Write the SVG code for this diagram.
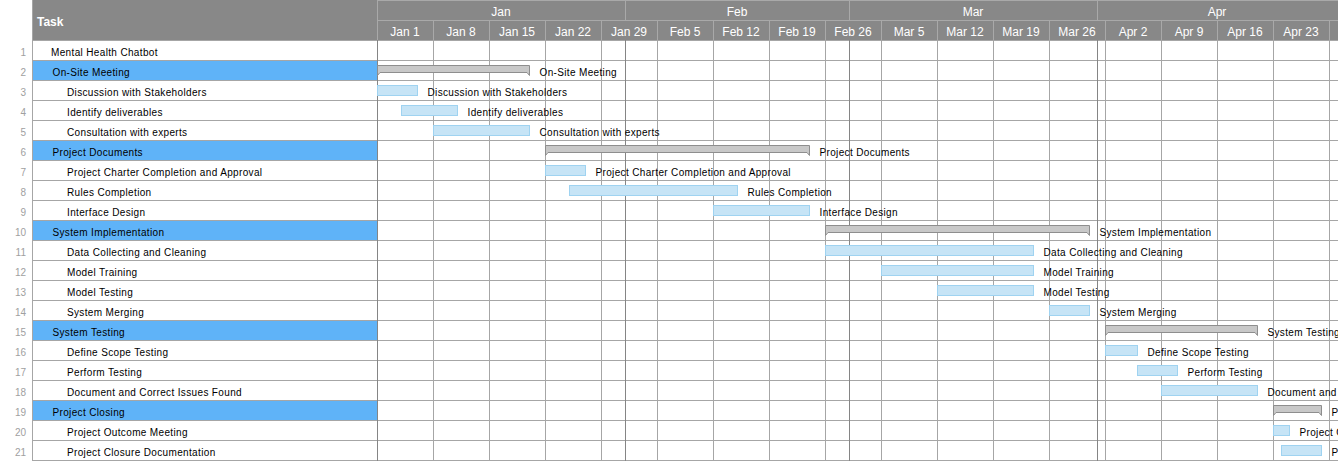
<svg xmlns="http://www.w3.org/2000/svg" width="1338" height="461" viewBox="0 0 1338 461">
<style>
text{font-family:"Liberation Sans",Arial,sans-serif}
.hd{fill:#888888}
.hl{stroke:#a9a9a9;stroke-width:1;fill:none}
.gl{stroke:#a6a6a6;stroke-width:1;fill:none}
.ml{stroke:#858585;stroke-width:1;fill:none}
.mon{font-size:12px;fill:#ffffff;text-anchor:middle}
.wk{font-size:12px;fill:#ffffff;text-anchor:middle}
.ttl{font-size:12px;font-weight:bold;fill:#ffffff}
.num{font-size:10px;fill:#a0a0a0;text-anchor:end}
.nm{font-size:10px;fill:#000000;letter-spacing:0.35px}
.lbl{font-size:10px;fill:#000000;letter-spacing:0.35px}
.sumrow{fill:#5fb3f8}
.bar{fill:#c6e4f6;stroke:#9fd3f1;stroke-width:1}
.sbar{fill:#c8c8c8;stroke:#8e8e8e;stroke-width:1}
</style>
<rect x="0" y="0" width="1338" height="461" fill="#ffffff"/>
<g id="header">
<rect class="hd" x="32" y="0" width="1306" height="40"/>
<text class="ttl" x="37" y="26">Task</text>
<path class="hl" d="M377.5 0V40M377 0.5H1338M377 20.5H1338M625.5 0V20M849.5 0V20M1097.5 0V20M433.5 20V40M489.5 20V40M545.5 20V40M601.5 20V40M657.5 20V40M713.5 20V40M769.5 20V40M825.5 20V40M881.5 20V40M937.5 20V40M993.5 20V40M1049.5 20V40M1105.5 20V40M1161.5 20V40M1217.5 20V40M1273.5 20V40M1329.5 20V40"/>
<text class="mon" x="501" y="16">Jan</text>
<text class="mon" x="737" y="16">Feb</text>
<text class="mon" x="973" y="16">Mar</text>
<text class="mon" x="1217" y="16">Apr</text>
<text class="wk" x="405" y="36">Jan 1</text>
<text class="wk" x="461" y="36">Jan 8</text>
<text class="wk" x="517" y="36">Jan 15</text>
<text class="wk" x="573" y="36">Jan 22</text>
<text class="wk" x="629" y="36">Jan 29</text>
<text class="wk" x="685" y="36">Feb 5</text>
<text class="wk" x="741" y="36">Feb 12</text>
<text class="wk" x="797" y="36">Feb 19</text>
<text class="wk" x="853" y="36">Feb 26</text>
<text class="wk" x="909" y="36">Mar 5</text>
<text class="wk" x="965" y="36">Mar 12</text>
<text class="wk" x="1021" y="36">Mar 19</text>
<text class="wk" x="1077" y="36">Mar 26</text>
<text class="wk" x="1133" y="36">Apr 2</text>
<text class="wk" x="1189" y="36">Apr 9</text>
<text class="wk" x="1245" y="36">Apr 16</text>
<text class="wk" x="1301" y="36">Apr 23</text>
</g>
<g id="summary-fills">
<rect class="sumrow" x="33" y="61" width="344" height="19"/>
<rect class="sumrow" x="33" y="141" width="344" height="19"/>
<rect class="sumrow" x="33" y="221" width="344" height="19"/>
<rect class="sumrow" x="33" y="321" width="344" height="19"/>
<rect class="sumrow" x="33" y="401" width="344" height="19"/>
</g>
<g id="grid">
<path class="gl" d="M32 40.5H1338M32 60.5H1338M32 80.5H1338M32 100.5H1338M32 120.5H1338M32 140.5H1338M32 160.5H1338M32 180.5H1338M32 200.5H1338M32 220.5H1338M32 240.5H1338M32 260.5H1338M32 280.5H1338M32 300.5H1338M32 320.5H1338M32 340.5H1338M32 360.5H1338M32 380.5H1338M32 400.5H1338M32 420.5H1338M32 440.5H1338M32 460.5H1338"/>
<path class="gl" d="M32.5 0V461M433.5 40V461M489.5 40V461M545.5 40V461M601.5 40V461M657.5 40V461M713.5 40V461M769.5 40V461M825.5 40V461M881.5 40V461M937.5 40V461M993.5 40V461M1049.5 40V461M1105.5 40V461M1161.5 40V461M1217.5 40V461M1273.5 40V461M1329.5 40V461"/>
<path class="ml" d="M377.5 40V461M625.5 40V461M849.5 40V461M1097.5 40V461"/>
</g>
<g id="row1"><text class="num" x="26" y="56">1</text><text class="nm" x="51" y="56">Mental Health Chatbot</text></g>
<g id="row2"><text class="num" x="26" y="76">2</text><text class="nm" x="52.5" y="76">On-Site Meeting</text>
<path class="sbar" d="M377.5 65.5H529.5V75.5L527 72.5H380L377.5 75.5Z"/><text class="lbl" x="539.5" y="76">On-Site Meeting</text></g>
<g id="row3"><text class="num" x="26" y="96">3</text><text class="nm" x="67" y="96">Discussion with Stakeholders</text>
<rect class="bar" x="377.5" y="85.5" width="40" height="10"/><text class="lbl" x="427.5" y="96">Discussion with Stakeholders</text></g>
<g id="row4"><text class="num" x="26" y="116">4</text><text class="nm" x="67" y="116">Identify deliverables</text>
<rect class="bar" x="401.5" y="105.5" width="56" height="10"/><text class="lbl" x="467.5" y="116">Identify deliverables</text></g>
<g id="row5"><text class="num" x="26" y="136">5</text><text class="nm" x="67" y="136">Consultation with experts</text>
<rect class="bar" x="433.5" y="125.5" width="96" height="10"/><text class="lbl" x="539.5" y="136">Consultation with experts</text></g>
<g id="row6"><text class="num" x="26" y="156">6</text><text class="nm" x="52.5" y="156">Project Documents</text>
<path class="sbar" d="M545.5 145.5H809.5V155.5L807 152.5H548L545.5 155.5Z"/><text class="lbl" x="819.5" y="156">Project Documents</text></g>
<g id="row7"><text class="num" x="26" y="176">7</text><text class="nm" x="67" y="176">Project Charter Completion and Approval</text>
<rect class="bar" x="545.5" y="165.5" width="40" height="10"/><text class="lbl" x="595.5" y="176">Project Charter Completion and Approval</text></g>
<g id="row8"><text class="num" x="26" y="196">8</text><text class="nm" x="67" y="196">Rules Completion</text>
<rect class="bar" x="569.5" y="185.5" width="168" height="10"/><text class="lbl" x="747.5" y="196">Rules Completion</text></g>
<g id="row9"><text class="num" x="26" y="216">9</text><text class="nm" x="67" y="216">Interface Design</text>
<rect class="bar" x="713.5" y="205.5" width="96" height="10"/><text class="lbl" x="819.5" y="216">Interface Design</text></g>
<g id="row10"><text class="num" x="26" y="236">10</text><text class="nm" x="52.5" y="236">System Implementation</text>
<path class="sbar" d="M825.5 225.5H1089.5V235.5L1087 232.5H828L825.5 235.5Z"/><text class="lbl" x="1099.5" y="236">System Implementation</text></g>
<g id="row11"><text class="num" x="26" y="256">11</text><text class="nm" x="67" y="256">Data Collecting and Cleaning</text>
<rect class="bar" x="825.5" y="245.5" width="208" height="10"/><text class="lbl" x="1043.5" y="256">Data Collecting and Cleaning</text></g>
<g id="row12"><text class="num" x="26" y="276">12</text><text class="nm" x="67" y="276">Model Training</text>
<rect class="bar" x="881.5" y="265.5" width="152" height="10"/><text class="lbl" x="1043.5" y="276">Model Training</text></g>
<g id="row13"><text class="num" x="26" y="296">13</text><text class="nm" x="67" y="296">Model Testing</text>
<rect class="bar" x="937.5" y="285.5" width="96" height="10"/><text class="lbl" x="1043.5" y="296">Model Testing</text></g>
<g id="row14"><text class="num" x="26" y="316">14</text><text class="nm" x="67" y="316">System Merging</text>
<rect class="bar" x="1049.5" y="305.5" width="40" height="10"/><text class="lbl" x="1099.5" y="316">System Merging</text></g>
<g id="row15"><text class="num" x="26" y="336">15</text><text class="nm" x="52.5" y="336">System Testing</text>
<path class="sbar" d="M1105.5 325.5H1257.5V335.5L1255 332.5H1108L1105.5 335.5Z"/><text class="lbl" x="1267.5" y="336">System Testing</text></g>
<g id="row16"><text class="num" x="26" y="356">16</text><text class="nm" x="67" y="356">Define Scope Testing</text>
<rect class="bar" x="1105.5" y="345.5" width="32" height="10"/><text class="lbl" x="1147.5" y="356">Define Scope Testing</text></g>
<g id="row17"><text class="num" x="26" y="376">17</text><text class="nm" x="67" y="376">Perform Testing</text>
<rect class="bar" x="1137.5" y="365.5" width="40" height="10"/><text class="lbl" x="1187.5" y="376">Perform Testing</text></g>
<g id="row18"><text class="num" x="26" y="396">18</text><text class="nm" x="67" y="396">Document and Correct Issues Found</text>
<rect class="bar" x="1161.5" y="385.5" width="96" height="10"/><text class="lbl" x="1267.5" y="396">Document and Correct Issues Found</text></g>
<g id="row19"><text class="num" x="26" y="416">19</text><text class="nm" x="52.5" y="416">Project Closing</text>
<path class="sbar" d="M1273.5 405.5H1321.5V415.5L1319 412.5H1276L1273.5 415.5Z"/><text class="lbl" x="1331.5" y="416">Project Closing</text></g>
<g id="row20"><text class="num" x="26" y="436">20</text><text class="nm" x="67" y="436">Project Outcome Meeting</text>
<rect class="bar" x="1273.5" y="425.5" width="16" height="10"/><text class="lbl" x="1299.5" y="436">Project Outcome Meeting</text></g>
<g id="row21"><text class="num" x="26" y="456">21</text><text class="nm" x="67" y="456">Project Closure Documentation</text>
<rect class="bar" x="1281.5" y="445.5" width="40" height="10"/><text class="lbl" x="1331.5" y="456">Project Closure Documentation</text></g>
</svg>
